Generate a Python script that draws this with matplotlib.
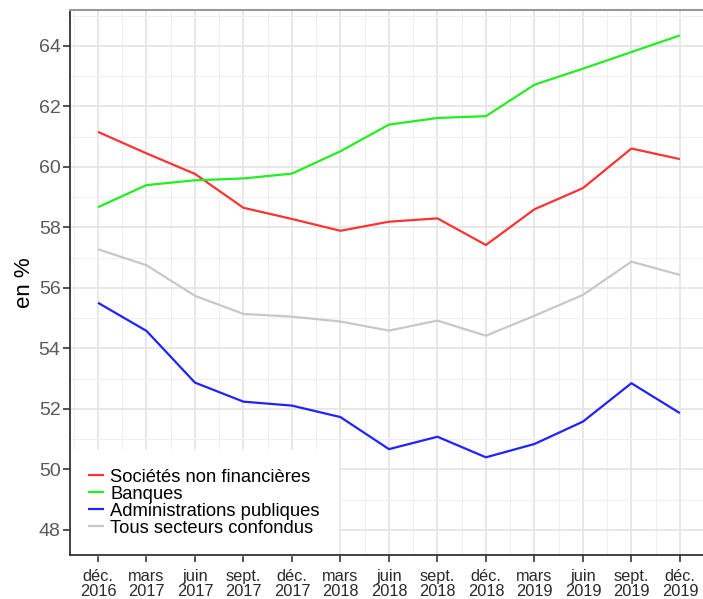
import matplotlib
matplotlib.use("Agg")
import matplotlib.pyplot as plt
from matplotlib.ticker import FixedLocator

plt.rcParams['font.family'] = ['Liberation Sans', 'DejaVu Sans']

categories = ["déc.\n2016", "mars\n2017", "juin\n2017", "sept.\n2017", "déc.\n2017",
              "mars\n2018", "juin\n2018", "sept.\n2018", "déc.\n2018", "mars\n2019",
              "juin\n2019", "sept.\n2019", "déc.\n2019"]

snf = [61.16, 60.45, 59.77, 58.65, 58.28, 57.89, 58.19, 58.30, 57.42, 58.60, 59.30, 60.61, 60.26]
banques = [58.67, 59.40, 59.56, 59.62, 59.78, 60.52, 61.40, 61.62, 61.68, 62.72, 63.25, 63.80, 64.35]
admin = [55.51, 54.58, 52.87, 52.24, 52.11, 51.73, 50.67, 51.08, 50.40, 50.84, 51.58, 52.85, 51.86]
tous = [57.28, 56.75, 55.74, 55.14, 55.05, 54.89, 54.59, 54.92, 54.42, 55.08, 55.77, 56.87, 56.43]

series_labels = ["Sociétés non financières", "Banques", "Administrations publiques", "Tous secteurs confondus"]
series_colors = ["#ff3333", "#22ee22", "#2222ff", "#c8c8c8"]

fig = plt.figure(figsize=(7.03, 5.99), dpi=100)
W, H = 703, 599
left, right, top, bottom = 70, 709, 10, 555
ax = fig.add_axes([left / W, 1 - bottom / H, (right - left) / W, (bottom - top) / H])

x = list(range(len(categories)))
for vals, lab, col in zip([snf, banques, admin, tous], series_labels, series_colors):
    ax.plot(x, vals, color=col, lw=1.6, label=lab, solid_capstyle='butt', zorder=2)

ax.set_xlim(-0.577, 12.6)
ax.set_ylim(47.17, 65.19)
ax.set_xticks(x)
ax.set_xticklabels(categories, fontsize=11.8, color="#2a2a2a", linespacing=1.0)
ax.set_yticks(range(48, 65, 2))
ax.set_yticklabels([str(v) for v in range(48, 65, 2)], fontsize=14, color="#5a5a5a")
ax.xaxis.set_minor_locator(FixedLocator([i + 0.5 for i in range(-1, 13)]))
ax.yaxis.set_minor_locator(FixedLocator(range(47, 66, 2)))
ax.tick_params(axis='both', which='major', length=4.8, width=1.2, color="#333333")
ax.tick_params(axis='x', which='major', pad=5)
ax.tick_params(axis='y', which='major', pad=2)
ax.tick_params(which='minor', length=0)
ax.grid(which='major', color="#e6e6e6", lw=1.3)
ax.grid(which='minor', color="#f0f0f0", lw=0.8)
ax.set_axisbelow(True)

for s in ['left', 'bottom']:
    ax.spines[s].set_color("#333333")
    ax.spines[s].set_linewidth(1.3)
ax.spines['top'].set_color("#999999")
ax.spines['top'].set_linewidth(1.5)
ax.spines['right'].set_visible(False)

ax.set_ylabel("en %", fontsize=16, color="black", labelpad=3)

leg = ax.legend(loc='lower left', frameon=True, fontsize=13.2, handlelength=0.85,
                handletextpad=0.35, labelspacing=0.0, borderaxespad=0.0,
                borderpad=1.0, fancybox=False)
leg.get_frame().set_facecolor("white")
leg.get_frame().set_edgecolor("white")
leg.get_frame().set_alpha(1)
leg.set_zorder(2.3)

fig.savefig("out.png", dpi=100)
